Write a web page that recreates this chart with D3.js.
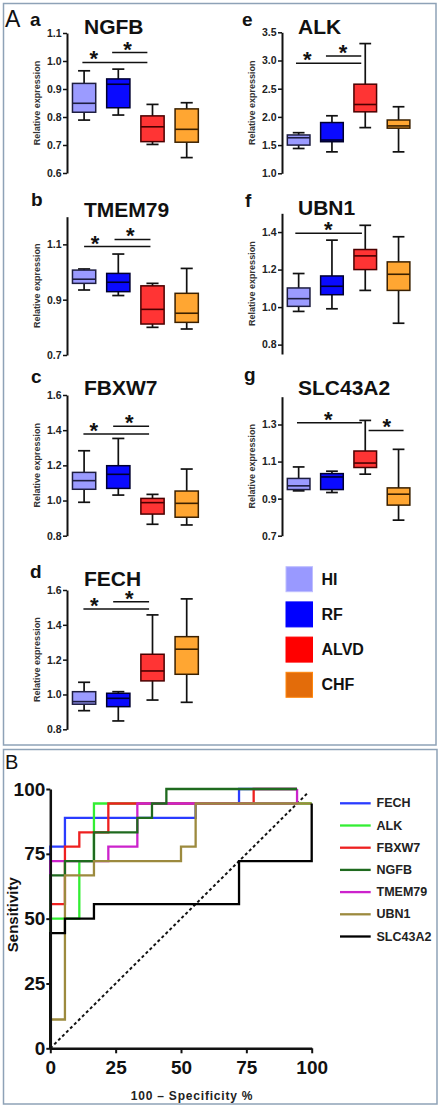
<!DOCTYPE html>
<html><head><meta charset="utf-8">
<script src="https://cdn.jsdelivr.net/npm/d3@7/dist/d3.min.js"></script>
<style>
body{margin:0;background:#fff}
svg{display:block}
text{font-family:"Liberation Sans",Arial,sans-serif}
</style>
</head><body>
<svg id="chart" width="442" height="1112"></svg>
<script>
// ---------------- DATA ----------------
const groups = ["HI", "RF", "ALVD", "CHF"];
const genes = ["NGFB", "TMEM79", "FBXW7", "FECH", "ALK", "UBN1", "SLC43A2"];
const panelLetters = ["a", "b", "c", "d", "e", "f", "g"];
const yDomains = [[0.6, 1.1], [0.7, 1.2], [0.8, 1.6], [0.8, 1.6], [1.0, 3.5], [0.75, 1.5], [0.7, 1.45]];
const yTicks = [
  [0.6, 0.7, 0.8, 0.9, 1.0, 1.1],
  [0.7, 0.9, 1.1],
  [0.8, 1.0, 1.2, 1.4, 1.6],
  [0.8, 1.0, 1.2, 1.4, 1.6],
  [1.0, 1.5, 2.0, 2.5, 3.0, 3.5],
  [0.8, 1.0, 1.2, 1.4],
  [0.7, 0.9, 1.1, 1.3]
];
// [min, q1, median, q3, max] for HI, RF, ALVD, CHF
const statsNGFB    = [[0.789, 0.817, 0.849, 0.920, 0.965], [0.807, 0.833, 0.917, 0.936, 0.971], [0.702, 0.712, 0.765, 0.804, 0.845], [0.655, 0.710, 0.756, 0.829, 0.851]];
const statsTMEM79  = [[0.935, 0.959, 0.974, 1.007, 1.011], [0.915, 0.929, 0.963, 0.995, 1.065], [0.800, 0.812, 0.865, 0.950, 0.959], [0.794, 0.818, 0.851, 0.923, 1.013]];
const statsFBXW7   = [[0.990, 1.064, 1.113, 1.160, 1.283], [1.031, 1.069, 1.149, 1.198, 1.353], [0.865, 0.923, 0.988, 1.012, 1.035], [0.861, 0.905, 0.984, 1.054, 1.179]];
const statsFECH    = [[0.907, 0.944, 0.959, 1.016, 1.070], [0.848, 0.930, 0.978, 1.007, 1.016], [0.968, 1.078, 1.135, 1.231, 1.457], [0.955, 1.116, 1.260, 1.332, 1.549]];
const statsALK     = [[1.44, 1.50, 1.63, 1.68, 1.72], [1.38, 1.56, 1.59, 1.90, 2.02], [1.81, 2.09, 2.22, 2.58, 3.30], [1.38, 1.80, 1.84, 1.945, 2.18]];
const statsUBN1    = [[0.977, 1.004, 1.045, 1.102, 1.179], [0.991, 1.066, 1.111, 1.166, 1.357], [1.089, 1.200, 1.273, 1.307, 1.436], [0.914, 1.089, 1.175, 1.241, 1.375]];
const statsSLC43A2 = [[0.942, 0.949, 0.969, 1.009, 1.071], [0.933, 0.949, 1.017, 1.035, 1.048], [1.032, 1.068, 1.092, 1.157, 1.322], [0.784, 0.865, 0.924, 0.958, 1.166]];
const boxStats = [statsNGFB, statsTMEM79, statsFBXW7, statsFECH, statsALK, statsUBN1, statsSLC43A2];
// significance bars: [from group index, to group index, level, asterisk at group index]
const sigNGFB    = [[-0.05, 1.85, 0.995, 0.28], [0.82, 1.85, 1.030, 1.27]];
const sigTMEM79  = [[0.0, 1.94, 1.092, 0.32], [0.89, 1.94, 1.118, 1.35]];
const sigFBXW7   = [[-0.02, 1.9, 1.378, 0.28], [0.85, 1.9, 1.423, 1.32]];
const sigFECH    = [[-0.02, 1.9, 1.491, 0.3], [0.85, 1.9, 1.533, 1.32]];
const sigALK     = [[-0.08, 1.88, 2.95, 0.26], [0.82, 1.88, 3.08, 1.33]];
const sigUBN1    = [[-0.1, 1.9, 1.393, 0.89]];
const sigSLC43A2 = [[-0.05, 1.9, 1.309, 0.89], [2.1, 3.15, 1.268, 2.65]];
const sigBars = [sigNGFB, sigTMEM79, sigFBXW7, sigFECH, sigALK, sigUBN1, sigSLC43A2];

// ROC panel
const rocNames = ["FECH", "ALK", "FBXW7", "NGFB", "TMEM79", "UBN1", "SLC43A2"];
const rocTicks = [0, 25, 50, 75, 100];
const rocFECH    = [[0,0],[0,77.8],[5.6,77.8],[5.6,88.9],[55.6,88.9],[55.6,94.4],[72.2,94.4],[72.2,100],[94.4,100]];
const rocALK     = [[0,0],[0,50],[11.1,50],[11.1,72.2],[16.7,72.2],[16.7,94.4],[100,94.4]];
const rocFBXW7   = [[0,0],[0,55.6],[5.6,55.6],[5.6,77.8],[11.1,77.8],[11.1,83.3],[22.2,83.3],[22.2,94.4],[77.8,94.4],[77.8,100],[94.4,100]];
const rocNGFB    = [[0,0],[0,66.7],[5.6,66.7],[5.6,72.2],[16.7,72.2],[16.7,83.3],[33.3,83.3],[33.3,88.9],[38.9,88.9],[38.9,94.4],[44.4,94.4],[44.4,100],[94.4,100]];
const rocTMEM79  = [[0,0],[0,72.2],[22.2,72.2],[22.2,77.8],[33.3,77.8],[33.3,94.4],[94.4,94.4],[94.4,100]];
const rocUBN1    = [[0,0],[0,11.1],[5.6,11.1],[5.6,66.7],[16.7,66.7],[16.7,72.2],[50,72.2],[50,77.8],[55.6,77.8],[55.6,94.4],[100,94.4]];
const rocSLC43A2 = [[0,0],[0,44.4],[5.6,44.4],[5.6,50],[16.7,50],[16.7,55.6],[72.2,55.6],[72.2,72.2],[100,72.2],[100,94.4]];
const rocCurves = [rocFECH, rocALK, rocFBXW7, rocNGFB, rocTMEM79, rocUBN1, rocSLC43A2];
const rocDiagonal = [[0,0],[98.5,98.5]];

// ---------------- STYLE / LAYOUT ----------------
const boxFill   = {HI: "#9b9bff", RF: "#0a0aff", ALVD: "#ff3434", CHF: "#ffa632"};
const boxStroke = {HI: "#1e1e40", RF: "#00002e", ALVD: "#4a0000", CHF: "#3a2000"};
const legendFill = {HI: "#9999ff", RF: "#0000ff", ALVD: "#ff0000", CHF: "#e36c0a"};
const rocColor = {FECH: "#2a3cff", ALK: "#33ee33", FBXW7: "#ee2020", NGFB: "#1f6a1f", TMEM79: "#cc22cc", UBN1: "#9c8a3e", SLC43A2: "#000000"};
const rocOrder = ["FECH", "ALK", "FBXW7", "TMEM79", "NGFB", "UBN1", "SLC43A2"]; // draw order (bottom to top)

const layout = [
  {ax: 67,  step: 34.2, top: 33,    bot: 173,   letterX: 30,  letterY: 26,  titleX: 84,  titleY: 33.5},
  {ax: 67,  step: 34.2, top: 216.7, bot: 355,   letterX: 31,  letterY: 206, titleX: 84,  titleY: 216.5},
  {ax: 67,  step: 34.2, top: 395,   bot: 535.7, letterX: 31,  letterY: 383, titleX: 84,  titleY: 395},
  {ax: 67,  step: 34.2, top: 590,   bot: 729.3, letterX: 30,  letterY: 578, titleX: 84,  titleY: 586},
  {ax: 282, step: 33.3, top: 32.3,  bot: 173.3, letterX: 242, letterY: 25.5,titleX: 298, titleY: 33.5},
  {ax: 282, step: 33.3, top: 213.3, bot: 354,   letterX: 245, letterY: 207, titleX: 298, titleY: 215},
  {ax: 282, step: 33.3, top: 396.7, bot: 535.7, letterX: 244, letterY: 381, titleX: 298, titleY: 395}
];

const svg = d3.select("#chart");
const borderColor = "#8ea2b7";

// Panel borders
svg.append("rect").attr("x", 3.5).attr("y", 3.5).attr("width", 432.5).attr("height", 741.5)
  .attr("fill", "none").attr("stroke", borderColor).attr("stroke-width", 1.5);
svg.append("rect").attr("x", 3.5).attr("y", 749.5).attr("width", 433.5).attr("height", 354.5)
  .attr("fill", "none").attr("stroke", borderColor).attr("stroke-width", 1.5);

svg.append("text").attr("x", 5).attr("y", 27).attr("font-size", 23).attr("fill", "#111").text("A");
svg.append("text").attr("x", 5).attr("y", 769).attr("font-size", 20).attr("fill", "#111").text("B");

// ---------------- BOX PLOT PANELS ----------------
genes.forEach((gene, i) => {
  const L = layout[i];
  const g = svg.append("g");
  const y = d3.scaleLinear().domain(yDomains[i]).range([L.bot, L.top]);
  const x = d3.scaleBand().domain(groups).range([L.ax, L.ax + 4 * L.step]).paddingInner(0.32).paddingOuter(0.16);
  const xi = d3.scaleLinear().domain([-0.5, 3.5]).range([L.ax, L.ax + 4 * L.step]);
  const bw = x.bandwidth();

  g.append("text").attr("x", L.letterX).attr("y", L.letterY).attr("font-size", 19)
    .attr("font-weight", "bold").attr("fill", "#111").text(panelLetters[i]);
  g.append("text").attr("x", L.titleX).attr("y", L.titleY).attr("font-size", 21)
    .attr("font-weight", "bold").attr("fill", "#111").text(gene);

  const axis = g.append("g").attr("transform", `translate(${L.ax},0)`)
    .call(d3.axisLeft(y).tickValues(yTicks[i]).tickFormat(d3.format(".1f")).tickSizeOuter(0).tickSizeInner(4).tickPadding(1.5));
  axis.select(".domain").attr("stroke", "#111").attr("stroke-width", 2);
  axis.selectAll(".tick line").attr("stroke", "#111").attr("stroke-width", 1.5);
  axis.selectAll(".tick text").attr("font-size", 10.5).attr("font-weight", "bold").attr("fill", "#222")
    .attr("font-family", "Liberation Sans, Arial, sans-serif");

  g.append("text")
    .attr("transform", `translate(${L.ax - 30},${(L.top + L.bot) / 2}) rotate(-90)`)
    .attr("text-anchor", "middle").attr("dominant-baseline", "central")
    .attr("font-size", 9).attr("font-weight", "bold").attr("fill", "#333").text("Relative expression");

  groups.forEach((grp, j) => {
    const s = boxStats[i][j];
    const cx = x(grp) + bw / 2;
    const capW = bw * 0.52;
    g.append("line").attr("x1", cx).attr("x2", cx).attr("y1", y(s[0])).attr("y2", y(s[4]))
      .attr("stroke", "#111").attr("stroke-width", 1.7);
    [s[0], s[4]].forEach(v => g.append("line").attr("x1", cx - capW / 2).attr("x2", cx + capW / 2)
      .attr("y1", y(v)).attr("y2", y(v)).attr("stroke", "#111").attr("stroke-width", 1.7));
    g.append("rect").attr("x", x(grp)).attr("width", bw).attr("y", y(s[3])).attr("height", y(s[1]) - y(s[3]))
      .attr("fill", boxFill[grp]).attr("stroke", boxStroke[grp]).attr("stroke-width", 1.5);
    g.append("line").attr("x1", x(grp)).attr("x2", x(grp) + bw).attr("y1", y(s[2])).attr("y2", y(s[2]))
      .attr("stroke", boxStroke[grp]).attr("stroke-width", 1.6);
  });

  sigBars[i].forEach(sb => {
    g.append("line").attr("x1", xi(sb[0])).attr("x2", xi(sb[1])).attr("y1", y(sb[2])).attr("y2", y(sb[2]))
      .attr("stroke", "#111").attr("stroke-width", 1.5);
    g.append("text").attr("x", xi(sb[3])).attr("y", y(sb[2]) - 9 + 13).attr("text-anchor", "middle")
      .attr("font-size", 22).attr("font-weight", "bold").attr("fill", "#111").text("*");
  });
});

// Group legend
groups.forEach((grp, k) => {
  const yy = 566.7 + k * 35.2;
  svg.append("rect").attr("x", 286).attr("y", yy).attr("width", 26.5).attr("height", 25)
    .attr("fill", legendFill[grp]).attr("stroke", d3.color(legendFill[grp]).brighter(0.6)).attr("stroke-width", 1);
  svg.append("text").attr("x", 321.5).attr("y", yy + 12.5).attr("dominant-baseline", "central")
    .attr("font-size", 16).attr("font-weight", "bold").attr("fill", "#111").text(grp);
});

// ---------------- ROC PANEL ----------------
const rx = d3.scaleLinear().domain([0, 100]).range([50.3, 311.7]);
const ry = d3.scaleLinear().domain([0, 100]).range([1048.3, 789]);
const rg = svg.append("g");

const line = d3.line().x(d => rx(d[0])).y(d => ry(d[1]));

rg.append("path").attr("d", line(rocDiagonal)).attr("fill", "none").attr("stroke", "#111")
  .attr("stroke-width", 2).attr("stroke-dasharray", "3,2.6");

rocOrder.forEach(name => {
  const idx = rocNames.indexOf(name);
  rg.append("path").attr("d", line(rocCurves[idx])).attr("fill", "none")
    .attr("stroke", rocColor[name]).attr("stroke-width", 2.3).attr("stroke-linejoin", "miter");
});

const xAx = rg.append("g").attr("transform", `translate(0,${ry(0)})`)
  .call(d3.axisBottom(rx).tickValues(rocTicks).tickSizeOuter(0).tickSizeInner(5).tickPadding(7));
const yAx = rg.append("g").attr("transform", `translate(${rx(0)},0)`)
  .call(d3.axisLeft(ry).tickValues(rocTicks).tickSizeOuter(0).tickSizeInner(4).tickPadding(1));
[xAx, yAx].forEach(a => {
  a.select(".domain").attr("stroke", "#111").attr("stroke-width", 2.5);
  a.selectAll(".tick line").attr("stroke", "#111").attr("stroke-width", 2);
  a.selectAll(".tick text").attr("font-size", 19).attr("font-weight", "bold").attr("fill", "#111")
    .attr("font-family", "Liberation Sans, Arial, sans-serif");
});

rg.append("text").attr("transform", `translate(12,${(ry(0) + ry(100)) / 2 - 4}) rotate(-90)`)
  .attr("text-anchor", "middle").attr("dominant-baseline", "central")
  .attr("font-size", 15).attr("font-weight", "bold").attr("fill", "#111").text("Sensitivity");
rg.append("text").attr("x", 192).attr("y", 1100).attr("text-anchor", "middle")
  .attr("font-size", 12).attr("font-weight", "bold").attr("letter-spacing", 0.8).attr("fill", "#222")
  .text("100 \u2013 Specificity %");

rocNames.forEach((name, k) => {
  const yy = 803.3 + k * 22.2;
  rg.append("line").attr("x1", 340).attr("x2", 370.7).attr("y1", yy).attr("y2", yy)
    .attr("stroke", rocColor[name]).attr("stroke-width", 2.3);
  rg.append("text").attr("x", 376.5).attr("y", yy).attr("dominant-baseline", "central")
    .attr("font-size", 12.5).attr("font-weight", "bold").attr("fill", "#222").text(name);
});
</script>
</body></html>
